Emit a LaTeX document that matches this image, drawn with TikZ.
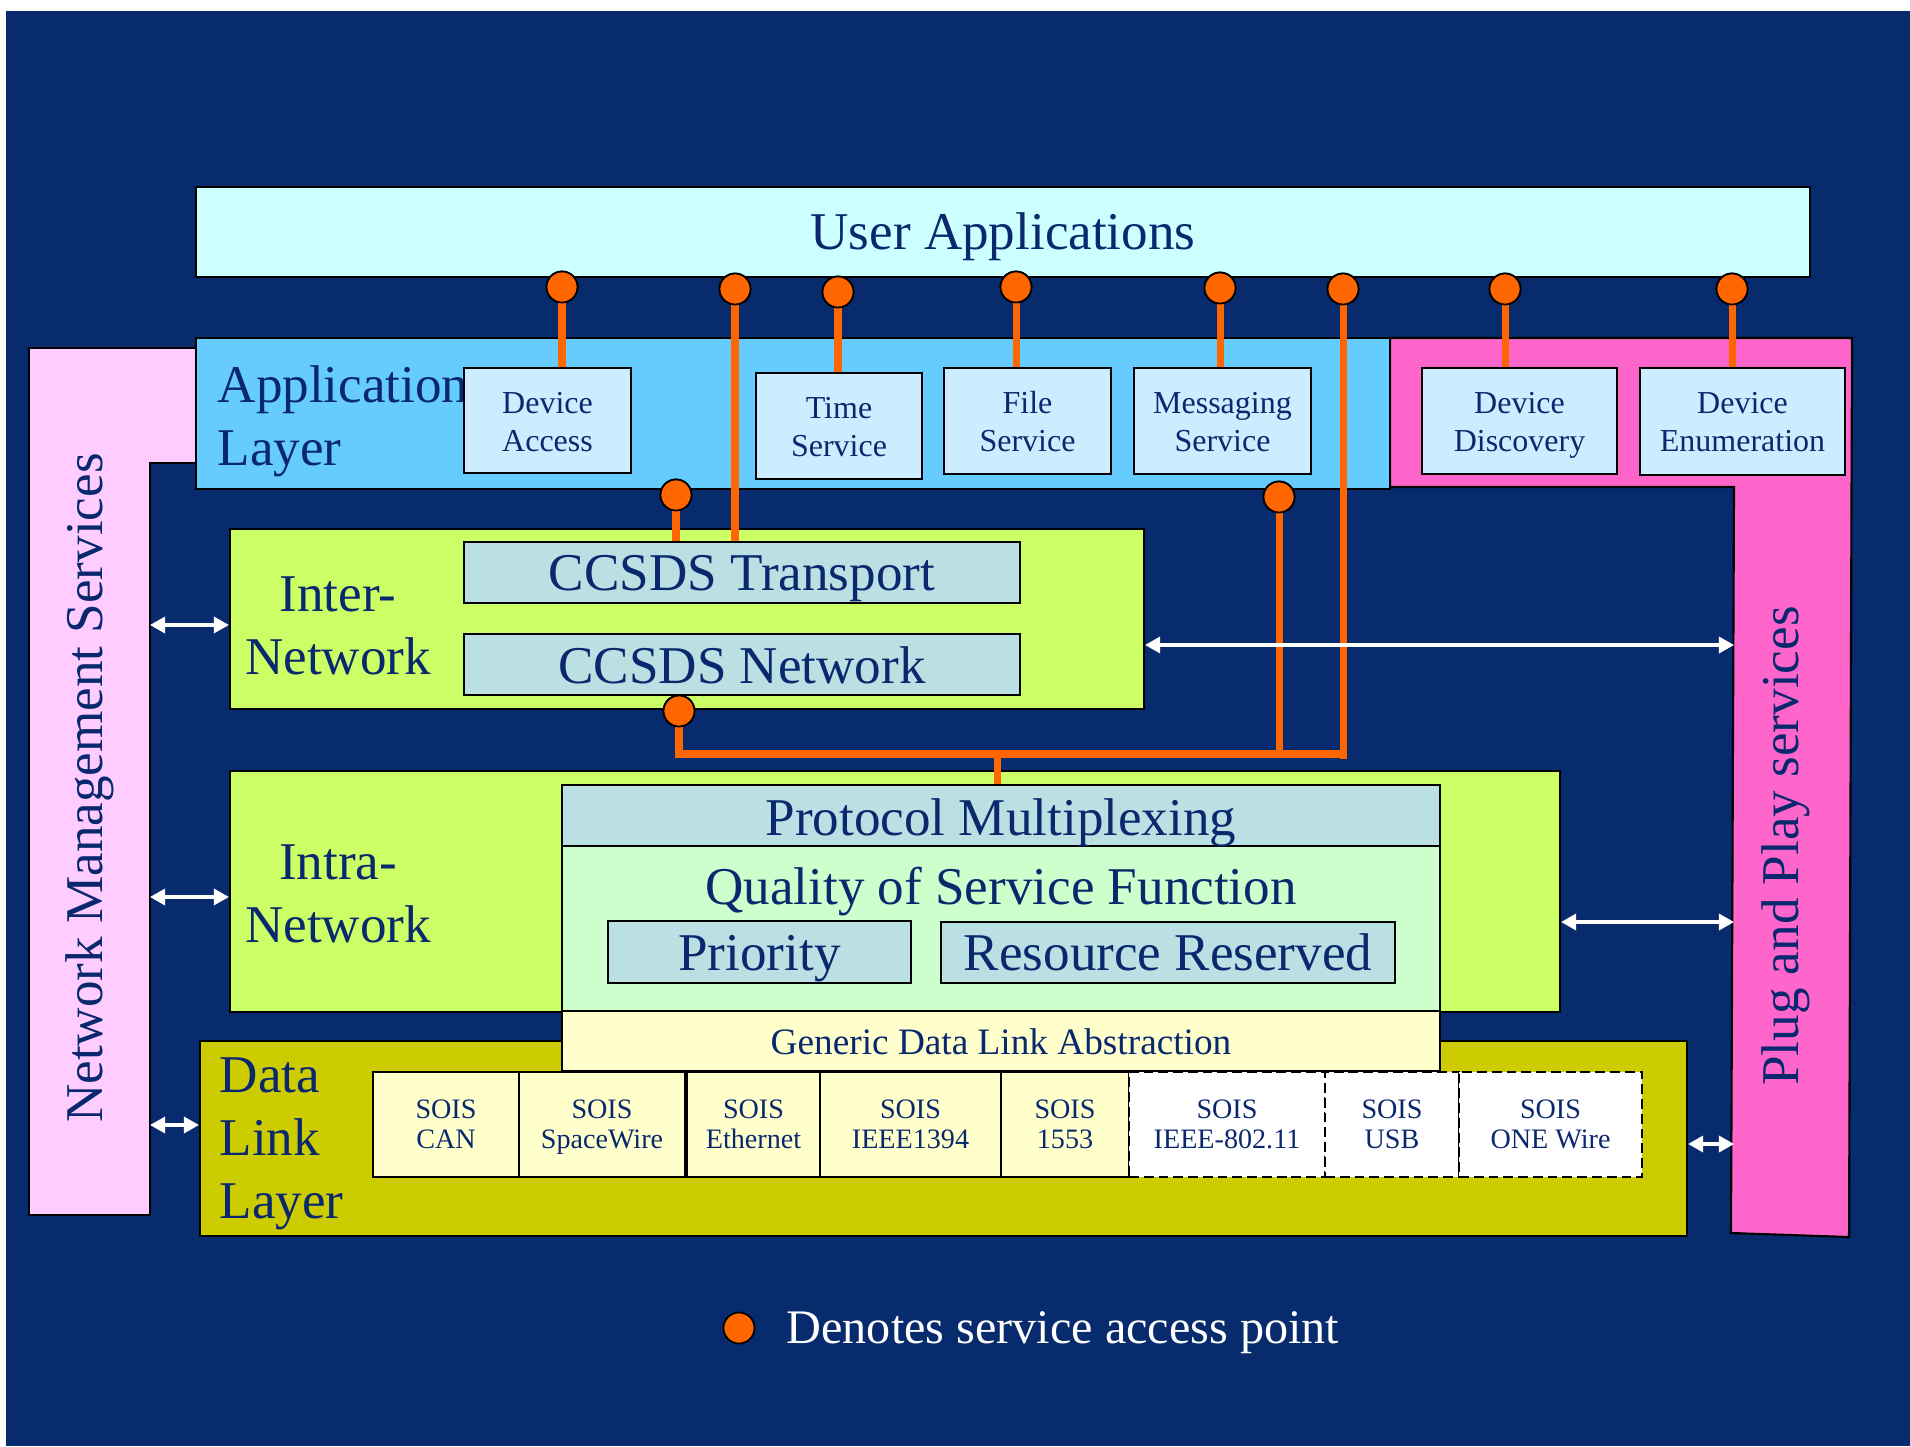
\documentclass[tikz,border=0pt]{standalone}
\usepackage{fontspec}
\setmainfont{Liberation Serif}
\usetikzlibrary{fit,arrows.meta}

\definecolor{navybg}{RGB}{7,43,108}
\definecolor{ink}{RGB}{10,40,110}
\definecolor{userapp}{RGB}{204,255,255}
\definecolor{applayer}{RGB}{102,204,255}
\definecolor{svc}{RGB}{204,236,255}
\definecolor{pnp}{RGB}{255,102,204}
\definecolor{nms}{RGB}{255,204,255}
\definecolor{netgreen}{RGB}{204,255,102}
\definecolor{proto}{RGB}{187,224,227}
\definecolor{qos}{RGB}{204,255,204}
\definecolor{linkpale}{RGB}{255,255,204}
\definecolor{olive}{RGB}{204,204,0}
\definecolor{sapor}{RGB}{255,102,0}

\newcommand\fsBig{\fontsize{15.1}{18}\selectfont}
\newcommand\fsSvc{\fontsize{9.1}{10.9}\selectfont}
\newcommand\fsGen{\fontsize{10.6}{12.7}\selectfont}
\newcommand\fsSois{\fontsize{8}{8.8}\selectfont}
\newcommand\fsLegend{\fontsize{13.7}{16}\selectfont}
\newcommand\lstack[1]{\begin{tabular}[t]{@{}l@{}}#1\end{tabular}}
\newcommand\cstack[1]{\begin{tabular}[t]{@{}c@{}}#1\end{tabular}}

\tikzset{
  blk/.style={draw=black, line width=0.6pt, inner sep=0pt, text=ink},
  area/.style={blk, fit={#1}},
  lbl/.style={inner sep=0pt, text=ink, font=\fsBig},
  svcbox/.style={blk, fill=svc},
  svctext/.style={inner sep=0pt, text=ink, font=\fsSvc, anchor=base},
  soisbox/.style={blk, fill=linkpale},
  soisnew/.style={soisbox, fill=white, dash pattern=on 2.8pt off 1.4pt},
  soistext/.style={inner sep=0pt, text=ink, font=\fsSois, anchor=base},
  sap/.style={circle, draw=black, line width=0.5pt, fill=sapor, inner sep=0pt, minimum size=0.31cm},
  sapline/.style={draw=sapor, line width=2pt},
  duplex/.style={draw=white, line width=0.9pt,
    {Triangle[width=4.6pt,length=4.3pt]}-{Triangle[width=4.6pt,length=4.3pt]}},
}

\begin{document}
\begin{tikzpicture}[x=0.01cm, y=-0.01cm]
  % canvas
  \fill[white] (0,0) rectangle (1910,1446);
  \useasboundingbox (0,0) rectangle (1910,1446);
  \fill[navybg] (6,11) rectangle (1910,1446);

  % management columns
  \draw[fill=nms, line width=0.6pt] (29,348) -- (196,348) -- (196,463) -- (150,463)
        -- (150,1215) -- (29,1215) -- cycle;
  \draw[fill=pnp, line width=0.6pt] (1390,338) -- (1852,338) -- (1849,1237) -- (1731,1233)
        -- (1734,487) -- (1390,487) -- cycle;
  \node[lbl, rotate=90] (nmsT) at (90,788) {Network Management Services};
  \node[lbl, rotate=90] (pnpT) at (1786,846) {Plug and Play services};

  % layers
  \node[area={(196,187) (1810,277)}, fill=userapp] (user) {};
  \node[area={(196,338) (1390,489)}, fill=applayer] (app) {};
  \node[area={(230,529) (1144,709)}, fill=netgreen] (inter) {};
  \node[area={(230,771) (1560,1012)}, fill=netgreen] (intra) {};
  \node[area={(200,1041) (1687,1236)}, fill=olive] (dll) {};

  \node[lbl, anchor=base] (userT) at (1003,250) {User Applications};
  \node[lbl, anchor=base west] (appT) at (217,402) {\lstack{Application\\Layer}};
  \node[lbl, anchor=base] (interT) at (338,611) {\cstack{Inter-\\Network}};
  \node[lbl, anchor=base] (intraT) at (338,879) {\cstack{Intra-\\Network}};
  \node[lbl, anchor=base west] (dllT) at (219,1092) {\lstack{Data\\Link\\Layer}};

  % application services
  \node[svcbox, fit={(464,368) (631,473)}] (da) {};
  \node[svcbox, fit={(756,373) (922,479)}] (ts) {};
  \node[svcbox, fit={(944,368) (1111,474)}] (fs) {};
  \node[svcbox, fit={(1134,368) (1311,474)}] (ms) {};
  \node[svcbox, fit={(1422,368) (1617,474)}] (dd) {};
  \node[svcbox, fit={(1640,368) (1845,475)}] (de) {};
  \node[svctext] (daT) at (da |- 0,413) {\cstack{Device\\Access}};
  \node[svctext] (tsT) at (ts |- 0,418) {\cstack{Time\\Service}};
  \node[svctext] (fsT) at (fs |- 0,413) {\cstack{File\\Service}};
  \node[svctext] (msT) at (ms |- 0,413) {\cstack{Messaging\\Service}};
  \node[svctext] (ddT) at (dd |- 0,413) {\cstack{Device\\Discovery}};
  \node[svctext] (deT) at (de |- 0,413) {\cstack{Device\\Enumeration}};

  % inter-network
  \node[area={(464,542) (1020,603)}, fill=proto] (tr) {};
  \node[area={(464,634) (1020,695)}, fill=proto] (nw) {};
  \node[lbl, anchor=base] (trT) at (742,590) {CCSDS Transport};
  \node[lbl, anchor=base] (nwT) at (742,683) {CCSDS Network};

  % intra-network
  \node[area={(562,785) (1440,846)}, fill=proto] (pm) {};
  \node[area={(562,846) (1440,1011)}, fill=qos] (qs) {};
  \node[area={(608,921) (911,983)}, fill=proto] (pr) {};
  \node[area={(941,922) (1395,983)}, fill=proto] (rr) {};
  \node[area={(562,1011) (1440,1071)}, fill=linkpale] (gd) {};
  \node[lbl, anchor=base] (pmT) at (1001,835) {Protocol Multiplexing};
  \node[lbl, anchor=base] (qsT) at (1001,904) {Quality of Service Function};
  \node[lbl, anchor=base] (prT) at (759.5,970) {Priority};
  \node[lbl, anchor=base] (rrT) at (1168,970) {Resource Reserved};
  \node[lbl, anchor=base, font=\fsGen] (gdT) at (1001,1054) {Generic Data Link Abstraction};

  % data links
  \node[soisbox, fit={(373,1072) (519,1177)}] (can) {};
  \node[soisbox, fit={(519,1072) (685,1177)}] (spw) {};
  \node[soisbox, fit={(687,1072) (820,1177)}] (eth) {};
  \node[soisbox, fit={(820,1072) (1001,1177)}] (fw) {};
  \node[soisbox, fit={(1001,1072) (1129,1177)}] (mil) {};
  \node[soisnew, fit={(1129,1072) (1325,1177)}] (wifi) {};
  \node[soisnew, fit={(1325,1072) (1459,1177)}] (usb) {};
  \node[soisnew, fit={(1459,1072) (1642,1177)}] (ow) {};
  \foreach \b/\t in {can/CAN, spw/SpaceWire, eth/Ethernet, fw/IEEE1394, mil/1553,
                     wifi/IEEE-802.11, usb/USB, ow/ONE Wire}
    \node[soistext] (\b T) at (\b |- 0,1118) {\cstack{SOIS\\\t}};

  % service access points
  \node[sap] (sDA) at (562,287) {};
  \node[sap] (sTA) at (735,289) {};
  \node[sap] (sTS) at (838,292) {};
  \node[sap] (sFS) at (1016,287) {};
  \node[sap] (sMS) at (1220,288) {};
  \node[sap] (sNA) at (1343,289) {};
  \node[sap] (sDD) at (1505,289) {};
  \node[sap] (sDE) at (1732,289) {};
  \node[sap] (sTR) at (676,495) {};
  \node[sap] (sMT) at (1279,497) {};
  \node[sap] (sNW) at (679,711) {};

  \coordinate (busL) at (679,754);
  \coordinate (busR) at (1343,754);
  \coordinate (busEnd) at (1343,759);
  \coordinate (tap) at (997,754);

  % access-point links
  \foreach \s/\b in {sDA/da, sTS/ts, sFS/fs, sMS/ms, sDD/dd, sDE/de, sTA/tr, sTR/tr}
    \draw[sapline] (\s) -- (\s |- \b.north);
  \draw[sapline] (sNA) -- (busEnd);
  \draw[sapline] (sMT) -- (sMT |- busL);
  \draw[sapline, line join=miter] (sNW) -- (busL) -- (busR);
  \draw[sapline] (tap) -- (tap |- pm.north);

  % access points drawn again above their links
  \foreach \s in {sDA, sTA, sTS, sFS, sMS, sNA, sDD, sDE, sTR, sMT, sNW}
    \draw[black, line width=0.5pt, fill=sapor] (\s) circle (0.155cm);

  % management interfaces
  \draw[duplex] (150,625) -- (inter.west |- 0,625);
  \draw[duplex] (150,897) -- (intra.west |- 0,897);
  \draw[duplex] (150,1125) -- (dll.west |- 0,1125);
  \draw[duplex] (inter.east |- 0,645) -- (1734,645);
  \draw[duplex] (intra.east |- 0,922) -- (1734,922);
  \draw[duplex] (dll.east |- 0,1144) -- (1734,1144);

  % legend
  \node[sap] (legSap) at (739,1328) {};
  \node[inner sep=0pt, anchor=base west, text=white, font=\fsLegend] (legT) at (786,1343)
    {Denotes service access point};
\end{tikzpicture}
\end{document}
